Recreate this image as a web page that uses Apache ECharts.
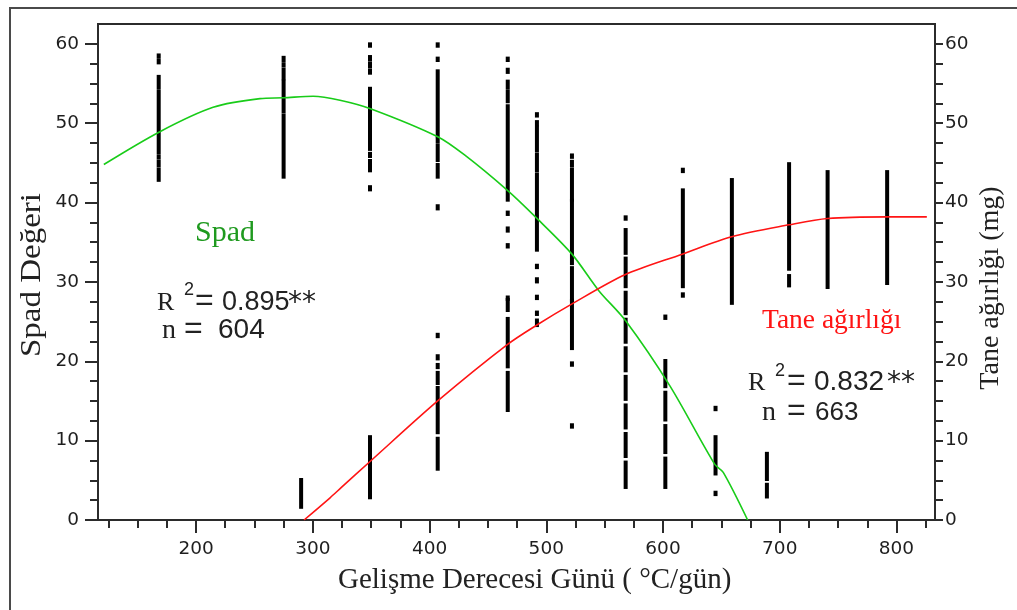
<!DOCTYPE html>
<html>
<head>
<meta charset="utf-8">
<script src="https://cdn.jsdelivr.net/npm/echarts@6/dist/echarts.min.js"></script>
<style>
html,body{margin:0;padding:0;background:#fff;}
#chart{width:1017px;height:610px;}
</style>
</head>
<body>
<div id="chart"></div>
<script>
// ---- axis ticks ----
const xMajorTicks = [200, 300, 400, 500, 600, 700, 800];
const xMinorTicks = [125, 150, 175, 225, 250, 275, 325, 350, 375, 425, 450, 475, 525, 550, 575, 625, 650, 675, 725, 750, 775, 825];
const yMajorTicks = [0, 10, 20, 30, 40, 50, 60];
const yMinorTicks = [2.5, 5, 7.5, 12.5, 15, 17.5, 22.5, 25, 27.5, 32.5, 35, 37.5, 42.5, 45, 47.5, 52.5, 55, 57.5];
const yRightTicks = [0, 2.5, 5, 7.5, 10, 12.5, 15, 17.5, 20, 22.5, 25, 27.5, 30, 32.5, 35, 37.5, 40, 42.5, 45, 47.5, 50, 52.5, 55, 57.5, 60];

// ---- observed strips: [GDD, low, high] ----
const spadStrips = [
  [168, 58.3, 58.6], [168, 57.6, 57.9], [168, 54.4, 55.9], [168, 46.3, 54.0], [168, 45.6, 45.9], [168, 44.6, 45.2], [168, 42.8, 44.2],
  [275, 57.9, 58.3], [275, 57.2, 57.5], [275, 55.6, 56.8], [275, 51.4, 55.3], [275, 43.2, 51.0],
  [349, 59.7, 60.0], [349, 58.0, 58.4], [349, 57.1, 57.6], [349, 56.3, 56.7], [349, 47.2, 54.4], [349, 46.7, 47.0], [349, 45.8, 46.2], [349, 44.0, 45.3], [349, 41.6, 42.0],
  [407, 59.7, 60.0], [407, 57.9, 58.2], [407, 48.3, 56.6], [407, 47.6, 48.0], [407, 45.3, 47.2], [407, 43.2, 44.8], [407, 39.2, 39.6],
  [467, 57.9, 58.2], [467, 56.4, 56.8], [467, 54.4, 55.3], [467, 52.7, 54.0], [467, 40.3, 52.2], [467, 38.5, 38.8], [467, 36.4, 36.8], [467, 34.4, 34.7], [467, 27.8, 28.1],
  [492, 50.9, 51.2], [492, 49.8, 50.2], [492, 46.5, 49.5], [492, 44.0, 46.1], [492, 38.5, 43.6], [492, 34.0, 38.2], [492, 31.8, 32.1], [492, 30.0, 30.4], [492, 27.9, 28.2],
  [522, 45.7, 46.0], [522, 44.6, 45.2], [522, 40.3, 44.2], [522, 32.3, 40.3], [522, 27.6, 31.8],
  [568, 37.9, 38.2], [568, 33.6, 36.6], [568, 29.4, 33.0], [568, 26.0, 28.7], [568, 22.4, 25.3], [568, 18.8, 21.7], [568, 15.2, 18.1], [568, 11.6, 14.5], [568, 8.0, 10.9], [568, 4.1, 7.3],
  [602, 25.4, 25.7], [602, 16.8, 20.1], [602, 12.6, 16.1], [602, 8.5, 11.9], [602, 4.1, 7.8],
  [645, 13.9, 14.2], [645, 5.8, 10.5], [645, 3.2, 3.5],
  [689, 5.1, 8.4], [689, 2.9, 4.5]
];
const taneStrips = [
  [290, 1.6, 5.1],
  [349, 2.8, 10.5],
  [407, 23.1, 23.4], [407, 20.3, 20.7], [407, 19.2, 19.6], [407, 17.2, 18.6], [407, 11.0, 16.7], [407, 6.4, 10.3],
  [467, 26.4, 27.8], [467, 19.3, 25.4], [467, 13.8, 18.6],
  [492, 25.9, 26.2], [492, 24.5, 25.2],
  [522, 21.6, 27.7], [522, 19.5, 19.8], [522, 11.7, 12.0],
  [617, 43.9, 44.2], [617, 29.4, 41.6], [617, 28.2, 28.5],
  [659, 27.3, 42.9],
  [708, 31.6, 44.9], [708, 29.5, 30.8],
  [741, 29.3, 43.9],
  [792, 29.8, 43.9]
];

// ---- fitted curves ----
const spadCurve = [
  [121, 44.8], [168.6, 48.9], [214.6, 52.0], [254.8, 53.1], [274.8, 53.2], [300.3, 53.4], [323.3, 52.9],
  [350, 51.8], [407, 48.3], [430, 46.0], [467, 41.5], [492, 38.0], [522, 33.5], [545, 28.9],
  [568, 25.1], [605.9, 16.9], [644.4, 7.0], [651.6, 6.0], [672.5, 0]
];
const taneCurve = [
  [292.5, 0], [314.8, 2.8], [324.5, 4.1], [350, 7.5], [407, 15.0], [466.6, 22.1],
  [492.3, 24.6], [521.7, 27.2], [567.4, 30.9], [616.5, 33.5], [658.8, 35.7], [708.1, 37.2],
  [741, 38.0], [792.3, 38.2], [826, 38.2]
];

const X_MIN = 116, X_MAX = 833, Y_MIN = 0, Y_MAX = 62.5;
const axisColor = '#2b2b2b';
const labelFont = 'DejaVu Sans';
const serif = 'Liberation Serif';
const sans = 'Liberation Sans';

function renderStrip(params, api) {
  const x = api.value(0), lo = api.value(1), hi = api.value(2);
  const pTop = api.coord([x, hi]);
  const pBot = api.coord([x, lo]);
  return {
    type: 'rect',
    shape: { x: pTop[0] - 2, y: pTop[1] - 1.5, width: 4, height: (pBot[1] - pTop[1]) + 3 },
    style: { fill: '#000' }
  };
}

function txt(text, x, baseline, size, family, color, extra) {
  return Object.assign({
    type: 'text',
    x: x, y: baseline - 0.34 * size,
    style: { text: text, font: size + 'px "' + family + '"', fill: color, textAlign: 'left', textVerticalAlign: 'middle' },
    z: 50
  }, extra || {});
}

const chart = echarts.init(document.getElementById('chart'), null, { renderer: 'canvas' });
const option = {
  animation: false,
  backgroundColor: '#fff',
  grid: { left: 98, right: 82, top: 24, bottom: 90, show: true, borderColor: axisColor, borderWidth: 2, backgroundColor: 'transparent' },
  xAxis: [
    {
      type: 'value', min: X_MIN, max: X_MAX, position: 'bottom',
      axisLine: { show: true, lineStyle: { color: axisColor, width: 2 } },
      axisTick: { show: true, customValues: xMajorTicks, length: 13, inside: false, lineStyle: { color: axisColor, width: 2 } },
      axisLabel: { show: true, customValues: xMajorTicks, margin: 20, color: '#1e1e1e', fontFamily: labelFont, fontSize: 18.5 },
      splitLine: { show: false }
    },
    {
      type: 'value', min: X_MIN, max: X_MAX, position: 'bottom',
      axisLine: { show: false },
      axisTick: { show: true, customValues: xMinorTicks, length: 8, inside: false, lineStyle: { color: axisColor, width: 2 } },
      axisLabel: { show: false },
      splitLine: { show: false }
    }
  ],
  yAxis: [
    {
      type: 'value', min: Y_MIN, max: Y_MAX, position: 'left',
      axisLine: { show: true, lineStyle: { color: axisColor, width: 2 } },
      axisTick: { show: true, customValues: yMajorTicks, length: 13, lineStyle: { color: axisColor, width: 2 } },
      axisLabel: { show: true, customValues: yMajorTicks, margin: 19, color: '#1e1e1e', fontFamily: labelFont, fontSize: 18.5 },
      splitLine: { show: false }
    },
    {
      type: 'value', min: Y_MIN, max: Y_MAX, position: 'left',
      axisLine: { show: false },
      axisTick: { show: true, customValues: yMinorTicks, length: 8, lineStyle: { color: axisColor, width: 2 } },
      axisLabel: { show: false },
      splitLine: { show: false }
    },
    {
      type: 'value', min: Y_MIN, max: Y_MAX, position: 'right',
      axisLine: { show: true, lineStyle: { color: axisColor, width: 2 } },
      axisTick: { show: true, customValues: yRightTicks, length: 8, lineStyle: { color: axisColor, width: 2 } },
      axisLabel: { show: true, customValues: yMajorTicks, margin: 10, color: '#1e1e1e', fontFamily: labelFont, fontSize: 18.5 },
      splitLine: { show: false }
    }
  ],
  series: [
    {
      name: 'Spad', type: 'custom', xAxisIndex: 0, yAxisIndex: 0,
      renderItem: renderStrip, data: spadStrips, encode: { x: 0, y: [1, 2] }, z: 3
    },
    {
      name: 'Tane ağırlığı', type: 'custom', xAxisIndex: 0, yAxisIndex: 2,
      renderItem: renderStrip, data: taneStrips, encode: { x: 0, y: [1, 2] }, z: 3
    },
    {
      name: 'Spad fit', type: 'line', xAxisIndex: 0, yAxisIndex: 0, data: spadCurve,
      smooth: 0.3, symbol: 'none', lineStyle: { color: '#19cc19', width: 1.6 }, z: 5
    },
    {
      name: 'Tane fit', type: 'line', xAxisIndex: 0, yAxisIndex: 2, data: taneCurve,
      smooth: 0.3, symbol: 'none', lineStyle: { color: '#ff1414', width: 1.6 }, z: 5
    }
  ],
  graphic: [
    { type: 'rect', shape: { x: 10, y: 8, width: 1100, height: 700 }, style: { fill: 'none', stroke: '#4a4a4a', lineWidth: 2 }, z: 1 },
    txt('Spad', 195, 243, 30, serif, '#1f9a1f'),
    txt('R', 157, 312, 26, serif, '#222'),
    txt('2', 184, 296, 18, sans, '#222'),
    txt('=', 195, 312, 32, sans, '#222'),
    txt('0.895', 222, 312, 27, sans, '#222'),
    txt('**', 288, 313, 28, 'DejaVu Sans', '#222'),
    txt('n', 162, 340, 28, serif, '#222'),
    txt('=', 184, 340, 32, sans, '#222'),
    txt('604', 218, 340, 28, sans, '#222'),
    txt('Tane ağırlığı', 762, 330, 27.5, serif, '#ff1414'),
    txt('R', 748, 392, 26, serif, '#222'),
    txt('2', 775, 377, 18, sans, '#222'),
    txt('=', 787, 392, 32, sans, '#222'),
    txt('0.832', 814, 392, 28, sans, '#222'),
    txt('**', 887, 393, 28, 'DejaVu Sans', '#222'),
    txt('n', 762, 422, 28, serif, '#222'),
    txt('=', 787, 422, 32, sans, '#222'),
    txt('663', 815, 422, 26, sans, '#222'),
    txt('Gelişme Derecesi Günü ( °C/gün)', 338, 590, 29, serif, '#222'),
    {
      type: 'text', x: 32, y: 275, rotation: Math.PI / 2, scaleX: 1.1,
      style: { text: 'Spad Değeri', font: '30px "Liberation Serif"', fill: '#222', textAlign: 'center', textVerticalAlign: 'middle' }, z: 50
    },
    {
      type: 'text', x: 991, y: 288, rotation: Math.PI / 2,
      style: { text: 'Tane ağırlığı (mg)', font: '28px "Liberation Serif"', fill: '#222', textAlign: 'center', textVerticalAlign: 'middle' }, z: 50
    }
  ]
};
chart.setOption(option);
</script>
</body>
</html>
